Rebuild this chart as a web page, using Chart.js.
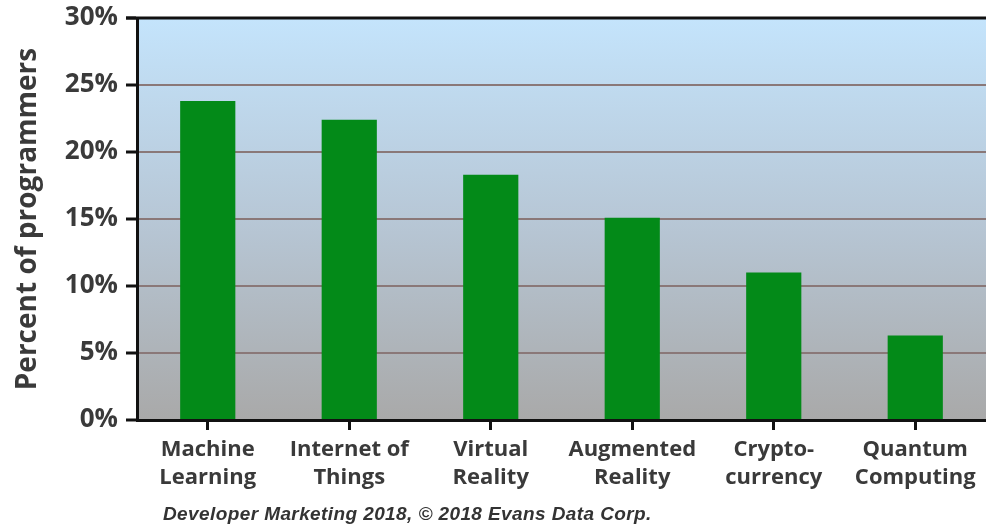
<!DOCTYPE html>
<html>
<head>
<meta charset="utf-8">
<script src="https://cdn.jsdelivr.net/npm/chart.js@4/dist/chart.umd.min.js"></script>
<style>
  html, body { margin: 0; padding: 0; background: #fff; }
  #wrap { width: 986px; height: 527px; position: relative; }
</style>
</head>
<body>
<div id="wrap"><canvas id="myChart"></canvas></div>
<script>
const categories = [
  ["Machine", "Learning"],
  ["Internet of", "Things"],
  ["Virtual", "Reality"],
  ["Augmented", "Reality"],
  ["Crypto-", "currency"],
  ["Quantum", "Computing"],
];
const percentValues = [23.8, 22.4, 18.3, 15.1, 11.0, 6.3];
const yTickLabels = ["0%", "5%", "10%", "15%", "20%", "25%", "30%"];
const yTitle = "Percent of programmers";
const footerText = "Developer Marketing 2018, \u00a9 2018 Evans Data Corp.";

// gradient fill behind the plot + top border + footer note
const plotBackground = {
  id: "plotBackground",
  beforeDraw(chart) {
    const { ctx, chartArea: a } = chart;
    const g = ctx.createLinearGradient(0, a.top, 0, a.bottom);
    g.addColorStop(0, "#c4e4fc");
    g.addColorStop(0.5, "#b7c7d6");
    g.addColorStop(1, "#a9a9a9");
    ctx.save();
    ctx.fillStyle = g;
    ctx.fillRect(a.left, a.top, a.right - a.left, a.bottom - a.top);
    ctx.restore();
  },
  afterDraw(chart) {
    const { ctx, chartArea: a } = chart;
    ctx.save();
    ctx.strokeStyle = "#111";
    ctx.lineWidth = 3;
    ctx.beginPath();
    ctx.moveTo(a.left - 11, a.top);
    ctx.lineTo(a.right, a.top);
    ctx.stroke();
    ctx.font = "italic bold 19px 'Liberation Sans', Arial, sans-serif";
    ctx.letterSpacing = "0.4px";
    ctx.fillStyle = "#333";
    ctx.textBaseline = "middle";
    ctx.fillText(footerText, 163, 515);
    ctx.restore();
  },
};

const ctx = document.getElementById("myChart").getContext("2d");
const myChart = new Chart(ctx, {
  type: "bar",
  data: {
    labels: categories,
    datasets: [
      {
        label: yTitle,
        data: percentValues,
        backgroundColor: "#038a18",
        borderWidth: 0,
        categoryPercentage: 1,
        barPercentage: 0.39,
      },
    ],
  },
  options: {
    responsive: true,
    maintainAspectRatio: false,
    animation: false,
    layout: { padding: { top: 18, right: 0, bottom: 0, left: 0 } },
    plugins: {
      legend: { display: false },
      tooltip: { enabled: false },
    },
    scales: {
      x: {
        afterFit: (s) => { s.height = 107; },
        grid: {
          offset: false,
          drawOnChartArea: false,
          drawTicks: true,
          tickLength: 10,
          tickColor: "#111",
          tickWidth: 3,
        },
        border: { color: "#111", width: 3 },
        ticks: {
          color: "#3a3a3a",
          font: { family: "'Open Sans', sans-serif", size: 22, weight: 700, lineHeight: 1.3 },
          padding: 5,
          maxRotation: 0,
          autoSkip: false,
        },
      },
      y: {
        min: 0,
        max: 30,
        afterFit: (s) => { s.width = 137; s.paddingTop = 0; s.paddingBottom = 0; },
        afterBuildTicks: (s) => {
          s.ticks = yTickLabels.map((t, i) => ({ value: i * 5 }));
        },
        grid: {
          color: "#8a7878",
          lineWidth: 2,
          drawTicks: true,
          tickLength: 11,
          tickColor: "#111",
          tickWidth: 3,
        },
        border: { color: "#111", width: 3 },
        ticks: {
          color: "#3a3a3a",
          font: { family: "'Open Sans', sans-serif", size: 26, weight: 700, lineHeight: 1 },
          padding: 8,
          callback: (v, i) => yTickLabels[i],
        },
        title: {
          display: true,
          text: yTitle,
          color: "#3a3a3a",
          font: { family: "'Open Sans', sans-serif", size: 28, weight: 700 },
          padding: { top: 11, bottom: 0 },
        },
      },
    },
  },
  plugins: [plotBackground],
});
</script>
</body>
</html>
